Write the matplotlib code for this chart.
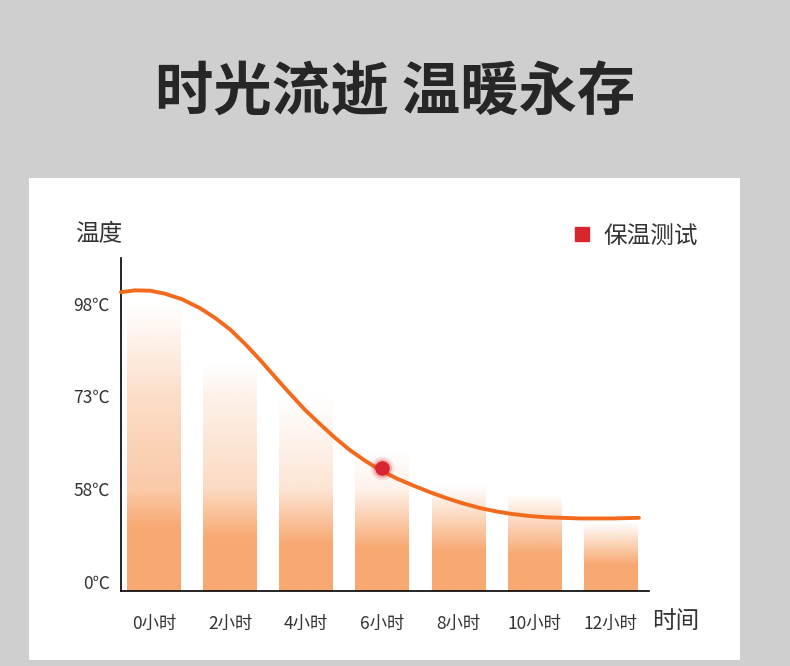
import numpy as np
import matplotlib
matplotlib.use('Agg')
import matplotlib.pyplot as plt
from matplotlib.patches import Rectangle
from matplotlib.lines import Line2D

plt.rcParams['font.family'] = ['Noto Sans CJK SC', 'DejaVu Sans']

# DATA
hours = ['0小时', '2小时', '4小时', '6小时', '8小时', '10小时', '12小时']
bar_temp = [98, 81.5, 73, 64.5, 59, 54.2, 37]
y_ticks = [0, 58, 73, 98]
y_ticklabels = ['0℃', '58℃', '73℃', '98℃']
# curve (x in bar slots, y in ℃)
curve_x = [-0.433, -0.249, -0.053, 0.144, 0.368, 0.604, 0.801, 0.998, 1.195,
           1.392, 1.589, 1.786, 1.983, 2.180, 2.376, 2.573, 2.770, 2.980,
           3.190, 3.400, 3.623, 3.846, 4.057, 4.280, 4.503, 4.713, 4.936,
           5.159, 5.593, 6.026, 6.367]
curve_temp = [101.0, 101.5, 101.4, 100.6, 99.1, 96.7, 94.1, 91.0, 87.1, 82.8,
              78.2, 73.7, 70.8, 68.5, 66.3, 64.3, 62.6, 61.0, 59.7, 58.6, 56.1,
              52.3, 49.1, 46.2, 44.0, 42.4, 41.2, 40.4, 39.7, 39.7, 40.1]
dot_x, dot_temp = 3, 61.4

# the temperature axis is not linear: each labelled value gets an equal step
scale_temp = [-58, 0, 58, 73, 98, 123]
scale_pos = [-1, 0, 1, 2, 3, 4]


def fwd(v):
    return np.interp(v, scale_temp, scale_pos)


def inv(p):
    return np.interp(p, scale_pos, scale_temp)


fig = plt.figure(figsize=(7.9, 6.66), dpi=100)
fig.patch.set_facecolor('#CFCFCF')

# white card
fig.add_artist(Rectangle((29 / 790, 6 / 666), 711 / 790, 482 / 666,
                         transform=fig.transFigure, fc='white', ec='none', zorder=-1))

fig.text(0.5, 1 - 93 / 666, '时光流逝 温暖永存', ha='center', va='center',
         fontsize=42, fontweight='bold', color='#262626')

ax = fig.add_axes([121 / 790, 75 / 666, 528 / 790, 333 / 666])
ax.set_facecolor('none')
ax.set_yscale('function', functions=(fwd, inv))
y_bottom = -5.6

# gradient bars
orange = np.array([248, 169, 114]) / 255
t = np.linspace(0, 1, 256)
grad = np.zeros((256, 1, 4))
grad[:, 0, :3] = orange
grad[:, 0, 3] = np.clip((1 - t) / 0.62, 0, 1)

x = np.arange(len(hours))
w = 0.71
bars = ax.bar(x, np.array(bar_temp) - y_bottom, bottom=y_bottom, width=w,
              color='none', edgecolor='none')
for xi, top, b in zip(x, bar_temp, bars):
    im = ax.imshow(grad, extent=[xi - w / 2, xi + w / 2, y_bottom, top],
                   origin='lower', aspect='auto', interpolation='bilinear', zorder=1)
    im.set_clip_path(b)

ax.set_xlim(-0.433, 6.50)
ax.set_ylim(y_bottom, 110.2)

# curve and marker
ax.plot(curve_x, curve_temp, color='#F36A1C', lw=2.8, solid_capstyle='round',
        solid_joinstyle='round', zorder=3, clip_on=False)
ax.plot(dot_x, dot_temp, 'o', color='#D9262E', ms=17, alpha=0.12, mec='none', zorder=4)
ax.plot(dot_x, dot_temp, 'o', color='#D9262E', ms=13.5, alpha=0.25, mec='none', zorder=4)
ax.plot(dot_x, dot_temp, 'o', color='#D9262E', ms=10.5, mec='none', zorder=5)

ax.set_xticks(x)
ax.set_xticklabels(hours, fontsize=12.5, color='#333333')
ax.set_yticks(y_ticks)
ax.set_yticklabels(y_ticklabels, fontsize=12.5, color='#333333')
ax.minorticks_off()
ax.tick_params(axis='x', length=0, pad=17)
ax.tick_params(axis='y', length=0, pad=8)
for s in ['top', 'right']:
    ax.spines[s].set_visible(False)
for s in ['left', 'bottom']:
    ax.spines[s].set_color('black')
    ax.spines[s].set_linewidth(1.2)

fig.text(75 / 790, 1 - 235 / 666, '温度', ha='left', va='center', fontsize=17, color='#333333')
fig.text(652 / 790, 1 - 621 / 666, '时间', ha='left', va='center', fontsize=17, color='#333333')

handle = Line2D([], [], marker='s', ls='none', color='#D9262E', markersize=10)
ax.legend([handle], ['保温测试'], loc='center right', bbox_to_anchor=(698 / 790, 1 - 236 / 666),
          bbox_transform=fig.transFigure, frameon=False, fontsize=17, handlelength=1,
          handletextpad=0.4, borderpad=0, borderaxespad=0, labelcolor='#333333')

fig.savefig('out.png', dpi=100, facecolor=fig.get_facecolor())
